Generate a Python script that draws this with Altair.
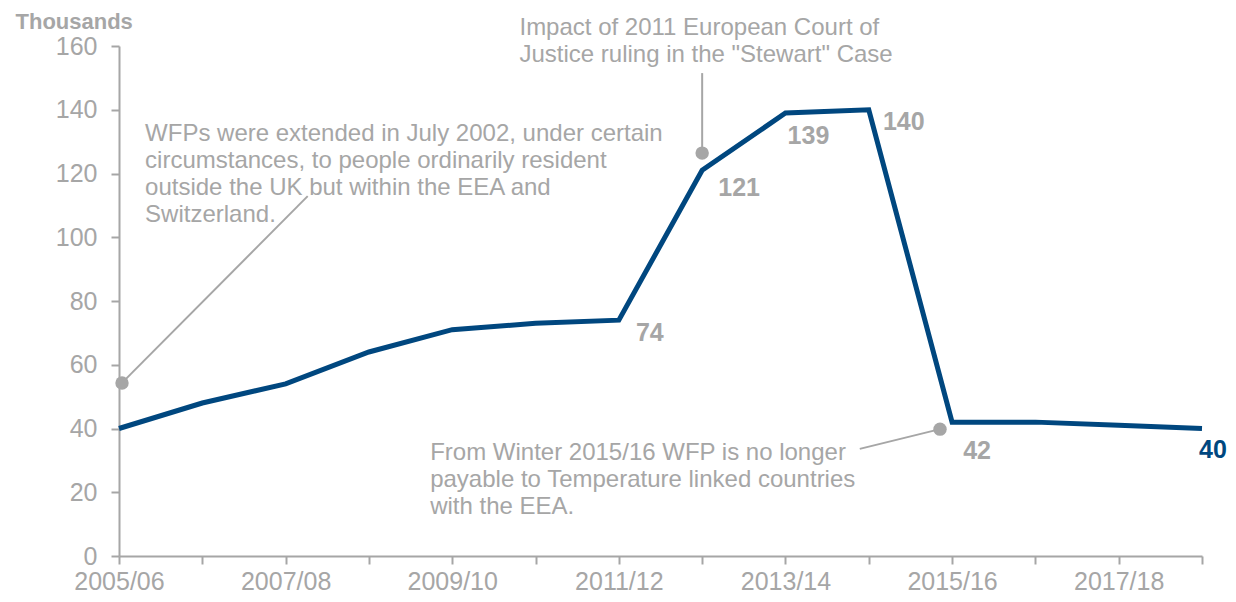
import altair as alt
import pandas as pd

# ---- data ----
years = ["2005/06", "2006/07", "2007/08", "2008/09", "2009/10", "2010/11", "2011/12",
         "2012/13", "2013/14", "2014/15", "2015/16", "2016/17", "2017/18", "2018/19"]
claimants = [40, 48, 54, 64, 71, 73, 74, 121, 139, 140, 42, 42, 41, 40]
tick_labels = [y if i % 2 == 0 else "" for i, y in enumerate(years)]
y_ticks = [0, 20, 40, 60, 80, 100, 120, 140, 160]

labelled_years = ["2011/12", "2012/13", "2013/14", "2014/15", "2015/16", "2018/19"]

note_texts = [
    "WFPs were extended in July 2002, under certain\ncircumstances, to people ordinarily resident\noutside the UK but within  the EEA and\nSwitzerland.",
    "Impact of 2011 European Court of\nJustice ruling in the \"Stewart\" Case",
    "From Winter 2015/16 WFP is no longer\npayable to Temperature linked countries\nwith the EEA.",
]
note_x = [0.313, 4.807, 3.735]
note_y = [136.2, 169.5, 36.2]
dot_x = [0.036, 7.0, 9.855]
dot_y = [54.3, 126.4, 39.8]
leader_end_x = [2.265, 7.0, 8.892]
leader_end_y = [112.9, 151.5, 33.6]

# ---- style ----
FONT = "Liberation Sans"
GREY = "#A6A6A6"
BLUE = "#00477F"

df = pd.DataFrame({"i": list(range(len(years))), "year": years, "value": claimants})
notes = pd.DataFrame({"x": note_x, "y": note_y, "text": note_texts})
leaders = pd.DataFrame({"x": dot_x, "y": dot_y, "x2": leader_end_x, "y2": leader_end_y})

label_expr = "[" + ",".join("'" + t + "'" for t in tick_labels) + "][datum.value]"

xsc = alt.Scale(domain=[0, len(years) - 1], nice=False, zero=False)
ysc = alt.Scale(domain=[0, 160], nice=False)

x_axis = alt.Axis(
    values=list(range(len(years))), labelExpr=label_expr, title=None, grid=False,
    tickSize=8, tickWidth=2, domainWidth=2, domainColor=GREY, tickColor=GREY,
    labelColor=GREY, labelFont=FONT, labelFontSize=25, labelPadding=5,
    labelFlush=False, labelOverlap=False)
y_axis = alt.Axis(
    values=y_ticks, title="Thousands", titleAngle=0, titleAlign="left",
    titleBaseline="middle", titleX=-104, titleY=-25, titleColor=GREY,
    titleFont=FONT, titleFontSize=22, titleFontWeight="bold",
    grid=False, tickSize=8, tickWidth=2, domainWidth=2, domainColor=GREY,
    tickColor=GREY, labelColor=GREY, labelFont=FONT, labelFontSize=25,
    labelPadding=14)


def X(field):
    return alt.X(field, scale=xsc, axis=x_axis, title=None)


def Y(field):
    return alt.Y(field, scale=ysc, axis=y_axis, title="Thousands")


line = alt.Chart(df).mark_line(color=BLUE, strokeWidth=5, strokeJoin="miter").encode(
    x=X("i:Q"), y=Y("value:Q"))

offsets = {"2011/12": (31, 13), "2012/13": (37, 18), "2013/14": (23, 23),
           "2014/15": (35, 12), "2015/16": (25, 29), "2018/19": (11, 21)}
label_layers = []
for yr in labelled_years:
    dx, dy = offsets[yr]
    color = BLUE if yr == years[-1] else GREY
    label_layers.append(
        alt.Chart(df[df["year"] == yr]).mark_text(
            font=FONT, fontSize=25, fontWeight="bold", color=color, dx=dx, dy=dy,
            align="center", baseline="middle").encode(
            x=X("i:Q"), y=Y("value:Q"), text=alt.Text("value:Q"))
    )

leader_lines = alt.Chart(leaders).mark_rule(color=GREY, strokeWidth=2).encode(
    x=X("x:Q"), y=Y("y:Q"), x2="x2:Q", y2="y2:Q")
dots = alt.Chart(leaders).mark_circle(color=GREY, opacity=1, size=180).encode(
    x=X("x:Q"), y=Y("y:Q"))

note_text = alt.Chart(notes).mark_text(
    font=FONT, fontSize=24, color=GREY, align="left", baseline="top",
    lineBreak="\n", lineHeight=27).encode(
    x=X("x:Q"), y=Y("y:Q"), text="text:N")

chart = alt.layer(leader_lines, dots, line, *label_layers, note_text).properties(
    width=1083, height=510,
    autosize=alt.AutoSizeParams(type="none"),
    padding={"left": 111, "top": 38, "right": 26, "bottom": 38},
    background="white",
).configure_view(stroke=None)

chart.save("out.html", embed_options={"renderer": "svg", "actions": False})
